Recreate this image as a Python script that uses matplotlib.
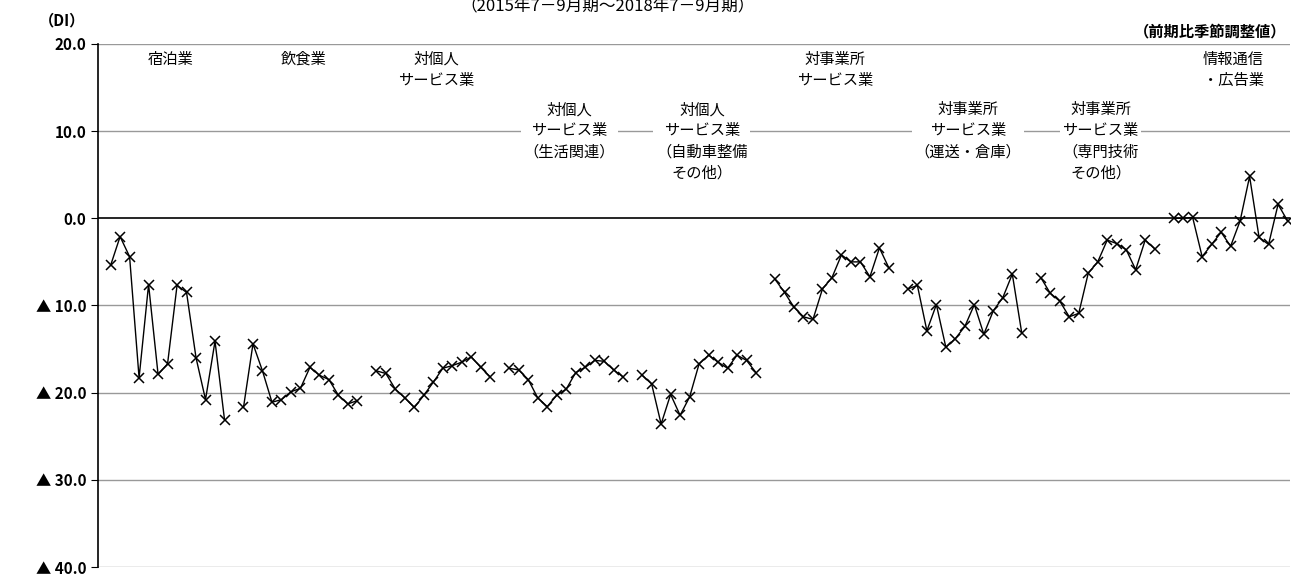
import matplotlib
matplotlib.use("Agg")
import matplotlib.pyplot as plt
import numpy as np

plt.rcParams['font.family'] = ['Noto Sans CJK JP', 'DejaVu Sans']

# 9 industries x 13 quarters (2015 Q3 .. 2018 Q3)
shukuhaku = [-5.4, -2.1, -4.4, -18.3, -7.6, -17.9, -16.7, -7.7, -8.5, -16.0, -20.8, -14.1, -23.1]
inshoku = [-21.7, -14.4, -17.5, -21.1, -20.8, -19.9, -19.5, -17.1, -18.0, -18.5, -20.3, -21.3, -20.9]
kojin = [-17.5, -17.8, -19.6, -20.6, -21.7, -20.3, -18.8, -17.2, -16.9, -16.5, -15.9, -17.1, -18.2]
kojin_seikatsu = [-17.2, -17.4, -18.5, -20.6, -21.6, -20.3, -19.6, -17.7, -17.1, -16.3, -16.4, -17.4, -18.2]
kojin_jidosha = [-18.0, -19.0, -23.6, -20.2, -22.6, -20.5, -16.7, -15.7, -16.5, -17.2, -15.7, -16.3, -17.7]
jigyosho = [-7.0, -8.5, -10.2, -11.3, -11.6, -8.1, -6.8, -4.2, -5.0, -5.0, -6.7, -3.4, -5.7]
jigyosho_unso = [-8.1, -7.7, -12.9, -9.9, -14.8, -13.8, -12.4, -9.9, -13.3, -10.6, -9.1, -6.4, -13.2]
jigyosho_senmon = [-6.8, -8.6, -9.5, -11.3, -10.9, -6.3, -5.0, -2.5, -2.9, -3.6, -5.9, -2.5, -3.5]
joho = [0.0, 0.0, 0.1, -4.4, -3.0, -1.6, -3.2, -0.3, 4.8, -2.2, -3.0, 1.6, -0.3]

series = [shukuhaku, inshoku, kojin, kojin_seikatsu, kojin_jidosha,
          jigyosho, jigyosho_unso, jigyosho_senmon, joho]
labels = ["宿泊業", "飲食業", "対個人\nサービス業", "対個人\nサービス業\n（生活関連）",
          "対個人\nサービス業\n（自動車整備\nその他）", "対事業所\nサービス業",
          "対事業所\nサービス業\n（運送・倉庫）", "対事業所\nサービス業\n（専門技術\nその他）",
          "情報通信\n・広告業"]
low_label = [False, False, False, True, True, False, True, True, False]

yticks = [20, 10, 0, -10, -20, -30, -40]
ytick_labels = ["20.0", "10.0", "0.0", "▲ 10.0", "▲ 20.0", "▲ 30.0", "▲ 40.0"]

fig = plt.figure(figsize=(12.93, 5.78), dpi=100)
ax = fig.add_axes([0.076, 0.019, 0.922, 0.905])

for y in [20, 10, -10, -20, -30, -40]:
    ax.axhline(y, color="#999999", lw=1, zorder=1)
ax.axhline(0, color="black", lw=1.2, zorder=2)

for k, vals in enumerate(series):
    x = np.arange(len(vals)) + k * 14
    ax.plot(x, vals, color="black", lw=1, marker="x", ms=7.5, mew=1.1, zorder=3)
    cx = k * 14 + 6.3
    ty = 13.4 if low_label[k] else 19.2
    ax.text(cx, ty, labels[k], ha="center", va="top", fontsize=11,
            linespacing=1.3, zorder=4,
            bbox=dict(facecolor="white", edgecolor="none", pad=2))

ax.set_xlim(-1.3, 124.3)
ax.set_ylim(-40, 20)
ax.set_yticks(yticks)
ax.set_yticklabels(ytick_labels, fontsize=11, fontweight="bold")
ax.set_xticks([])
for s in ["top", "right", "bottom"]:
    ax.spines[s].set_visible(False)
ax.spines["left"].set_linewidth(1.2)
ax.tick_params(axis="y", direction="out", length=5)

fig.text(0.03, 0.965, "（DI）", fontsize=11, fontweight="bold", va="center")
fig.text(0.995, 0.945, "（前期比季節調整値）", fontsize=11, fontweight="bold",
         ha="right", va="center")
fig.text(0.47, 0.99, "（2015年7－9月期～2018年7－9月期）", fontsize=12,
         ha="center", va="center")

fig.savefig("out.png", dpi=100)
